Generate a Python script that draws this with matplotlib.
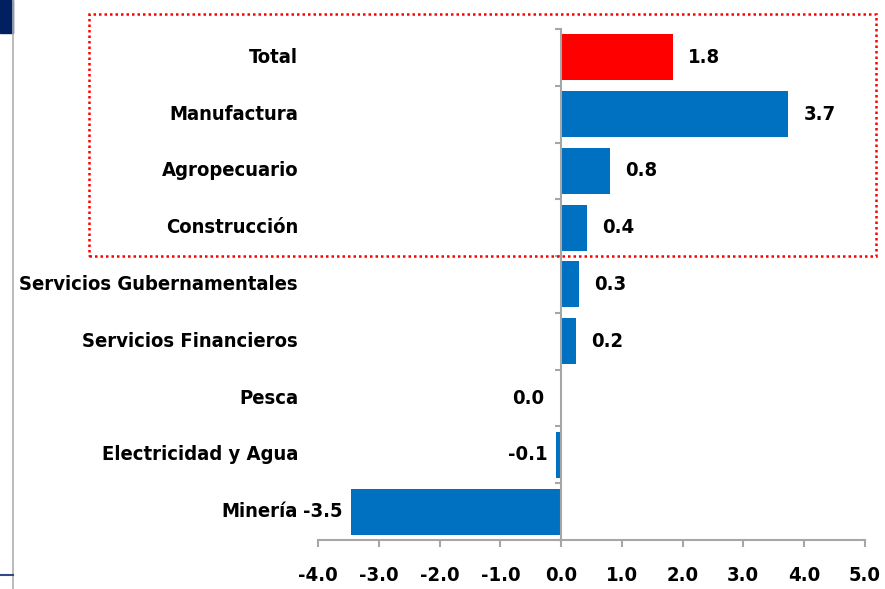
import matplotlib.pyplot as plt
from matplotlib.patches import Rectangle
from matplotlib.lines import Line2D

# datos
sectores = ['Total', 'Manufactura', 'Agropecuario', 'Construcción',
            'Servicios Gubernamentales', 'Servicios Financieros', 'Pesca',
            'Electricidad y Agua', 'Minería']
valores = [1.84, 3.74, 0.80, 0.42, 0.29, 0.24, 0.0, -0.08, -3.46]
colores = ['#FF0000'] + ['#0070C0'] * 8
xticks = [-4.0, -3.0, -2.0, -1.0, 0.0, 1.0, 2.0, 3.0, 4.0, 5.0]

plt.rcParams['font.family'] = ['DejaVu Sans']
plt.rcParams['font.stretch'] = 'condensed'
plt.rcParams['font.weight'] = 'bold'
fs = 14.5

fig = plt.figure(figsize=(8.85, 5.89), dpi=100)
ax = fig.add_axes([0.3597, 0.0832, 0.6173, 0.8676])

pos = list(range(len(sectores)))
ax.barh(pos, valores, height=0.81, color=colores)

ax.set_xlim(-4, 5)
ax.set_ylim(len(sectores) - 0.5, -0.5)

# ejes
gris = '#A6A6A6'
for s in ['top', 'right']:
    ax.spines[s].set_visible(False)
ax.spines['left'].set_position(('data', 0))
ax.spines['left'].set_color(gris)
ax.spines['bottom'].set_color(gris)
ax.spines['left'].set_linewidth(1.5)
ax.spines['bottom'].set_linewidth(1.5)

ax.set_xticks(xticks)
ax.set_xticklabels([f'{t:.1f}' for t in xticks], fontsize=fs, fontweight='bold',
                   fontstretch='condensed')
ax.tick_params(axis='x', direction='out', length=5, width=1.5, color=gris, pad=14)

ax.set_yticks([p - 0.5 for p in pos] + [len(sectores) - 0.5])
ax.set_yticklabels([])
ax.tick_params(axis='y', direction='out', length=4, width=1.5, color=gris)

# etiquetas de categorías
for p, nombre in zip(pos, sectores):
    ax.text(-0.037, p, nombre, transform=ax.get_yaxis_transform(),
            ha='right', va='center', fontsize=fs, fontweight='bold',
            fontstretch='condensed')

# etiquetas de valores
for p, v in zip(pos, valores):
    txt = f'{v:.1f}'
    if v > 0:
        off, ha = 11, 'left'
    elif v == 0:
        off, ha = -12, 'right'
    else:
        off, ha = -6, 'right'
    ax.annotate(txt, (v, p), xytext=(off, 0), textcoords='offset points',
                ha=ha, va='center', fontsize=fs, fontweight='bold',
                fontstretch='condensed')

# recuadro punteado rojo
fig.patches.append(Rectangle((0.1006, 0.5654), 0.8893, 0.4109, transform=fig.transFigure,
                             fill=False, edgecolor='#FF0000', linewidth=1.8,
                             linestyle=(0, (1, 1.2))))

# adornos de la diapositiva
fig.patches.append(Rectangle((0, 1 - 33 / 589), 13 / 885, 33 / 589,
                             transform=fig.transFigure, color='#002060'))
fig.lines.append(Line2D([13 / 885, 13 / 885], [0, 1], transform=fig.transFigure,
                        color='#B0B0B0', linewidth=1.2))
fig.lines.append(Line2D([0, 13 / 885], [1 - 575 / 589, 1 - 575 / 589],
                        transform=fig.transFigure, color='#2F4A8A', linewidth=1.5))

fig.savefig('out.png', dpi=100)
